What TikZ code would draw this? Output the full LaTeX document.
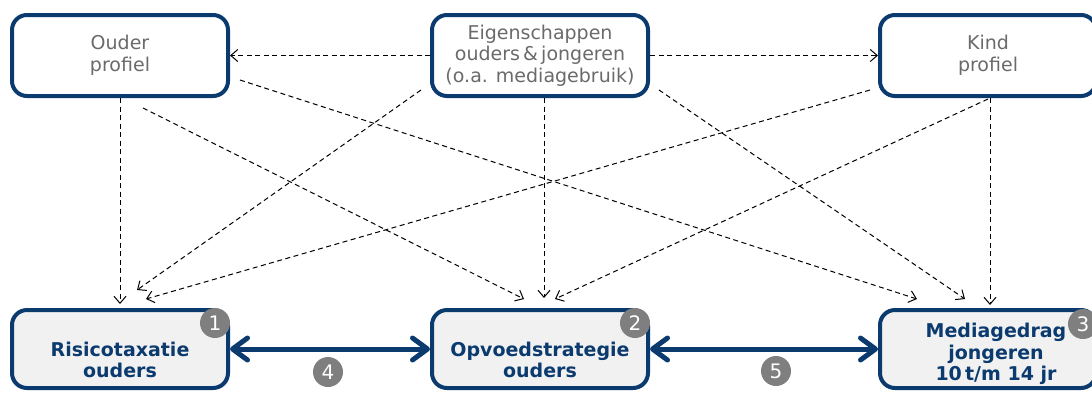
\documentclass[tikz,border=0pt]{standalone}
\usepackage{fontspec}
\setmainfont{DejaVu Sans}
\usetikzlibrary{positioning,arrows.meta,calc}

\definecolor{darkblue}{HTML}{0B3A6F}
\definecolor{textgrey}{HTML}{6A6A6A}
\definecolor{badgegrey}{HTML}{7F7F7F}
\definecolor{boxfill}{HTML}{F1F1F1}

\begin{document}
\begin{tikzpicture}[>={Straight Barb[length=7pt,width=12pt]},node distance=200pt,
    profile node/.style={draw=darkblue,line width=4pt,rounded corners=15pt,minimum width=216pt,minimum height=81pt,align=center,text=textgrey,font=\fontsize{19}{21.5}\selectfont},
    result node/.style={draw=darkblue,fill=boxfill,line width=4pt,rounded corners=15pt,minimum width=216pt,minimum height=78pt},
    result text/.style={align=center,text=darkblue,font=\fontsize{19}{21.5}\selectfont\bfseries},
    badge/.style={circle,fill=badgegrey,text=white,minimum size=30pt,inner sep=0pt,font=\fontsize{20}{20}\selectfont},
    dasharrow/.style={->,dash pattern=on 5pt off 3.5pt,line width=1pt},
    bigarrow/.style={{Straight Barb[length=15pt,width=22pt,round]}-{Straight Barb[length=15pt,width=22pt,round]},draw=darkblue,line width=5pt}]

                    \useasboundingbox (0pt,0pt) rectangle (1092pt,-392pt);

                    % top row
                    \node[profile node] (ouder) at (120pt,-55.5pt) {Ouder\\profiel};
                    \node[profile node] (eigen) [right=of ouder] {Eigenschappen\\ouders\,\&\,jongeren\\(o.a. mediagebruik)};
                    \node[profile node] (kind) [right=228pt of eigen] {Kind\\profiel};

                    % bottom row
                    \node[result node] (risico) [below=210pt of ouder] {};
                    \node[result node] (opvoed) [right=of risico] {};
                    \node[result node] (media) [right=228pt of opvoed] {};

                    \node[result text] (risicotext) [yshift=-11pt] at (risico) {Risicotaxatie\\ouders};
                    \node[result text] (opvoedtext) [yshift=-11pt] at (opvoed) {Opvoedstrategie\\ouders};
                    \node[result text] (mediatext) [xshift=8pt,yshift=-5pt] at (media) {Mediagedrag\\jongeren\\10\,t/m 14 jr};

                    \node[badge] (b1) at ($(risico.north east)+(-15pt,-15pt)$) {1};
                    \node[badge] (b2) at ($(opvoed.north east)+(-15pt,-15pt)$) {2};
                    \node[badge] (b3) at ($(media.north east)+(-15pt,-16pt)$) {3};

                    \path[dasharrow]
                        (eigen.west) edge (ouder.east)
                        (eigen.east) edge (kind.west)
                        (ouder.south) edge ([yshift=4pt]risico.north)
                        ([xshift=4pt]eigen.south) edge ([xshift=4pt,yshift=10pt]opvoed.north)
                        ([xshift=2pt]kind.south) edge ([xshift=2pt,yshift=3pt]media.north)
                        ([xshift=23pt,yshift=-10pt]ouder.south) edge ([xshift=-16pt,yshift=9pt]opvoed.north)
                        ([xshift=10pt,yshift=18pt]ouder.south east) edge ([xshift=39pt,yshift=9pt]media.north west)
                        ([xshift=-9pt,yshift=8pt]eigen.south west) edge ([xshift=17pt,yshift=18pt]risico.north)
                        ([xshift=9pt,yshift=8pt]eigen.south east) edge ([xshift=-23pt,yshift=9pt]media.north)
                        ([xshift=-8pt,yshift=8pt]kind.south west) edge ([xshift=26pt,yshift=9pt]risico.north)
                        ([yshift=-1pt]kind.south) edge ([xshift=15pt,yshift=9pt]opvoed.north)
                        ;

                    \draw[bigarrow] (risico) -- (opvoed);
                    \draw[bigarrow] (opvoed) -- (media);

                    \node[badge] (b4) at ($(risico.east)!0.5!(opvoed.west)+(-2pt,-23pt)$) {4};
                    \node[badge] (b5) at ($(opvoed.east)!0.5!(media.west)+(12pt,-22pt)$) {5};
                \end{tikzpicture}
\end{document}
